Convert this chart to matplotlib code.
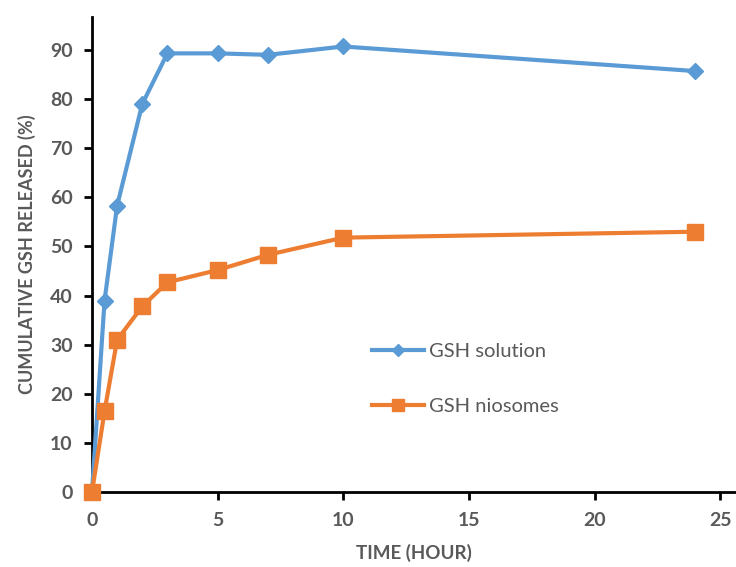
import matplotlib
matplotlib.use("Agg")
import matplotlib.pyplot as plt

time_h = [0, 0.5, 1, 2, 3, 5, 7, 10, 24]
gsh_solution = [0, 39, 58.3, 79, 89.3, 89.3, 89, 90.7, 85.7]
gsh_niosomes = [0, 16.5, 31, 37.8, 42.7, 45.2, 48.3, 51.8, 53]

x_ticks = [0, 5, 10, 15, 20, 25]
y_ticks = [0, 10, 20, 30, 40, 50, 60, 70, 80, 90]

text_color = "#595959"
blue = "#5B9BD5"
orange = "#ED7D31"

plt.rcParams["font.family"] = ["Lato", "DejaVu Sans"]

fig = plt.figure(figsize=(7.36, 5.67), dpi=100)
ax = fig.add_axes([0.125, 0.132, 0.874, 0.838])

ax.plot(time_h, gsh_solution, color=blue, lw=3, marker="D", ms=8,
        label="GSH solution", clip_on=False, zorder=3)
ax.plot(time_h, gsh_niosomes, color=orange, lw=3, marker="s", ms=12,
        label="GSH niosomes", clip_on=False, zorder=4)

ax.set_xlim(0, 25.6)
ax.set_ylim(0, 96.7)
ax.set_xticks(x_ticks)
ax.set_yticks(y_ticks)

for s in ("top", "right"):
    ax.spines[s].set_visible(False)
for s in ("left", "bottom"):
    ax.spines[s].set_linewidth(2)
    ax.spines[s].set_color("black")

ax.tick_params(axis="both", direction="out", length=6, width=2, color="black",
               labelcolor=text_color, labelsize=14, pad=8)
for lbl in ax.get_xticklabels() + ax.get_yticklabels():
    lbl.set_fontweight("bold")

ax.set_xlabel("TIME (HOUR)", fontsize=13.5, fontweight="bold", color=text_color, labelpad=11)
ax.set_ylabel("CUMULATIVE GSH RELEASED (%)", fontsize=13, fontweight="bold",
              color=text_color, labelpad=10)

leg = ax.legend(loc="upper left", bbox_to_anchor=(0.435, 0.315), frameon=False,
                fontsize=14.5, handlelength=2.6, labelspacing=1.9, handletextpad=0.25,
                borderpad=0, borderaxespad=0, markerscale=0.75)
for t in leg.get_texts():
    t.set_color(text_color)

fig.savefig("out.png", dpi=100)
